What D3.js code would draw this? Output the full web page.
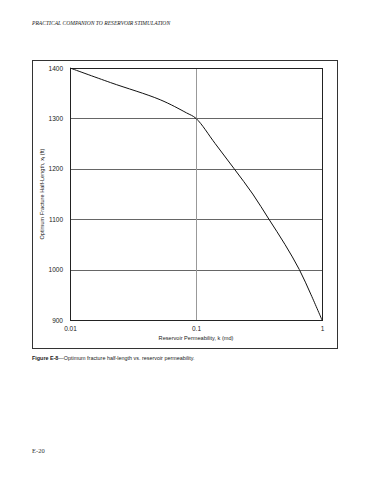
<!DOCTYPE html>
<html>
<head>
<meta charset="utf-8">
<script src="https://cdn.jsdelivr.net/npm/d3@7"></script>
<style>
  body { margin: 0; background: #fff; }
  svg { display: block; }
</style>
</head>
<body>
<svg id="chart" width="370" height="480"></svg>
<script>
var permeability = [0.01, 0.021, 0.052, 0.084, 0.1, 0.142, 0.201, 0.282, 0.379, 0.508, 0.661, 0.819, 1];
var halfLength = [1400, 1371, 1337, 1311, 1300, 1250, 1200, 1150, 1100, 1050, 1000, 950, 900];
var yTicks = [900, 1000, 1100, 1200, 1300, 1400];
var xTicks = [0.01, 0.1, 1];
var xTickLabels = ["0.01", "0.1", "1"];

var svg = d3.select("#chart");
var sans = "'Liberation Sans', Arial, sans-serif";
var serif = "'Liberation Serif', 'Times New Roman', serif";

// plot box (window.top is read-only, so no plain "top" here)
var plot = { left: 70, right: 322, top: 68, bottom: 320 };

var x = d3.scaleLog().domain([0.01, 1]).range([plot.left, plot.right]);
var y = d3.scaleLinear().domain([900, 1400]).range([plot.bottom, plot.top]);

// page header
svg.append("text")
    .attr("x", 32).attr("y", 25)
    .attr("font-family", serif).attr("font-style", "italic")
    .attr("font-size", 5.6).attr("fill", "#222")
    .text("PRACTICAL COMPANION TO RESERVOIR STIMULATION");

// outer frame
svg.append("rect")
    .attr("x", 32.5).attr("y", 60.5)
    .attr("width", 305).attr("height", 288)
    .attr("fill", "none").attr("stroke", "#333").attr("stroke-width", 1);

// grid
svg.append("g").selectAll("line")
    .data(yTicks.slice(1, -1))
    .enter().append("line")
    .attr("x1", plot.left).attr("x2", plot.right)
    .attr("y1", function(d){ return Math.round(y(d)) + 0.5; })
    .attr("y2", function(d){ return Math.round(y(d)) + 0.5; })
    .attr("stroke", "#666").attr("stroke-width", 1);

svg.append("line")
    .attr("x1", Math.round(x(0.1)) + 0.5).attr("x2", Math.round(x(0.1)) + 0.5)
    .attr("y1", plot.top).attr("y2", plot.bottom)
    .attr("stroke", "#999").attr("stroke-width", 1);

// plot border
svg.append("rect")
    .attr("x", plot.left + 0.5).attr("y", plot.top + 0.5)
    .attr("width", plot.right - plot.left).attr("height", plot.bottom - plot.top)
    .attr("fill", "none").attr("stroke", "#222").attr("stroke-width", 1);

// axes
var yAxis = d3.axisLeft(y).tickValues(yTicks).tickFormat(d3.format("d"))
    .tickSize(0).tickPadding(7);
var gy = svg.append("g").attr("transform", "translate(" + plot.left + ",0)").call(yAxis);
gy.select(".domain").remove();
gy.selectAll("text").attr("font-family", sans).attr("font-size", 6.5).attr("fill", "#222");

var xAxis = d3.axisBottom(x).tickValues(xTicks)
    .tickFormat(function(d, i){ return xTickLabels[i]; })
    .tickSize(0).tickPadding(6);
var gx = svg.append("g").attr("transform", "translate(0," + plot.bottom + ")").call(xAxis);
gx.select(".domain").remove();
gx.selectAll("text").attr("font-family", sans).attr("font-size", 6.5).attr("fill", "#222");

// axis titles
svg.append("text")
    .attr("x", (plot.left + plot.right) / 2).attr("y", 340)
    .attr("text-anchor", "middle")
    .attr("font-family", sans).attr("font-size", 5.6).attr("fill", "#222")
    .text("Reservoir Permeability, k (md)");

var yt = svg.append("text")
    .attr("transform", "translate(44," + (plot.top + plot.bottom) / 2 + ") rotate(-90)")
    .attr("text-anchor", "middle")
    .attr("font-family", sans).attr("font-size", 5.6).attr("fill", "#222");
yt.append("tspan").text("Optimum Fracture Half-Length, x");
yt.append("tspan").attr("font-size", 4).attr("dy", 1.2).text("f");
yt.append("tspan").attr("dy", -1.2).text(" (ft)");

// curve
var line = d3.line()
    .x(function(d){ return x(d[0]); })
    .y(function(d){ return y(d[1]); })
    .curve(d3.curveCatmullRom.alpha(0.5));

svg.append("path")
    .datum(d3.zip(permeability, halfLength))
    .attr("d", line)
    .attr("fill", "none").attr("stroke", "#111").attr("stroke-width", 1);

// caption
var cap = svg.append("text")
    .attr("x", 32).attr("y", 360)
    .attr("font-family", sans).attr("font-size", 5.4).attr("fill", "#222");
cap.append("tspan").attr("font-weight", "bold").text("Figure E-8");
cap.append("tspan").text("\u2014Optimum fracture half-length vs. reservoir permeability.");

// page number
svg.append("text")
    .attr("x", 32).attr("y", 453)
    .attr("font-family", serif).attr("font-size", 6.5).attr("fill", "#333")
    .text("E-20");
</script>
</body>
</html>
